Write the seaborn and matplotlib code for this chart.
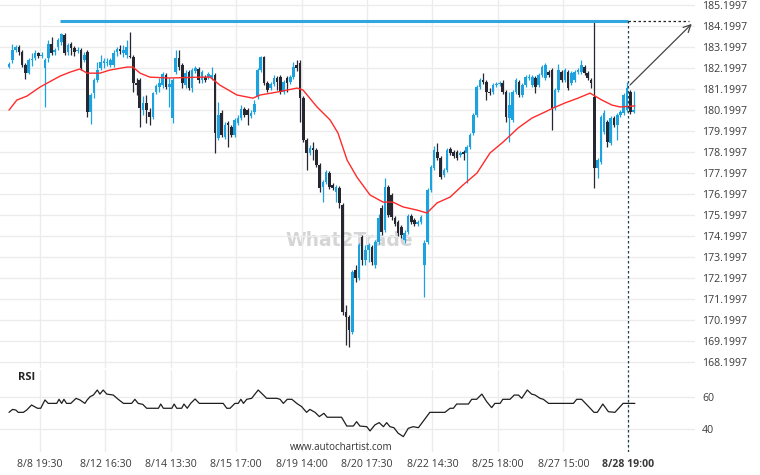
import matplotlib
matplotlib.use("Agg")
import matplotlib.pyplot as plt
import seaborn as sns
import numpy as np

# ---------------- data ----------------
opens = [182.23, 182.56, 183.04, 183.18, 182.94, 182.33, 181.94, 182.56, 182.66, 182.90,
         182.75, 182.18, 182.66, 183.33, 182.94, 183.18, 183.42, 183.75, 182.94, 183.33,
         183.14, 182.99, 183.04, 182.56, 182.94, 180.09, 180.99, 181.61, 182.18, 182.42,
         182.42, 182.33, 182.33, 182.94, 183.09, 182.90, 182.80, 182.75, 182.71, 181.47,
         181.61, 180.18, 180.52, 180.09, 179.85, 181.04, 181.28, 181.37, 181.85, 181.28,
         179.80, 181.99, 182.66, 182.33, 181.37, 181.99, 181.23, 182.04, 182.14, 181.61,
         181.75, 181.75, 181.71, 181.85, 178.85, 180.04, 178.90, 179.56, 179.37, 178.99,
         179.56, 179.80, 180.23, 180.18, 179.90, 180.09, 180.80, 182.09, 182.71, 181.47,
         181.23, 181.42, 181.71, 181.75, 181.04, 181.71, 181.52, 181.75, 182.33, 182.42,
         180.75, 178.75, 178.14, 178.37, 178.28, 177.56, 176.52, 176.75, 177.18, 176.61,
         176.28, 176.47, 175.66, 170.57, 170.33, 169.61, 172.57, 172.19, 174.14, 173.04,
         173.52, 173.66, 172.80, 173.90, 175.52, 174.47, 176.52, 176.14, 175.04, 174.85,
         174.61, 174.00, 174.38, 175.14, 174.95, 174.76, 174.85, 172.80, 173.90, 176.38,
         177.42, 178.18, 177.90, 177.09, 177.33, 178.32, 178.18, 178.18, 178.04, 178.18,
         178.14, 178.42, 179.09, 179.94, 181.28, 181.61, 181.52, 181.04, 181.04, 181.37,
         181.42, 181.47, 181.04, 179.80, 179.71, 181.04, 181.52, 180.90, 181.37, 181.71,
         181.37, 181.71, 181.37, 181.85, 181.71, 181.99, 182.09, 180.28, 181.14, 181.99,
         181.61, 181.99, 181.47, 181.61, 181.99, 181.99, 182.23, 181.94, 181.61, 180.80,
         177.42, 177.71, 179.14, 179.61, 178.61, 179.80, 179.47, 179.94, 180.04, 180.18,
         181.04, 180.09]
highs = [182.47, 183.33, 183.28, 183.28, 183.04, 182.42, 182.66, 182.90, 183.04, 182.94,
         182.94, 182.66, 183.52, 183.66, 183.14, 183.61, 183.85, 183.85, 183.37, 183.42,
         183.23, 183.18, 183.14, 182.94, 183.04, 180.99, 181.71, 182.47, 182.80, 182.66,
         182.66, 182.66, 183.04, 183.18, 183.28, 183.28, 183.52, 183.90, 182.80, 181.71,
         181.71, 180.85, 180.90, 180.28, 181.04, 181.42, 181.71, 181.99, 181.94, 181.71,
         181.71, 183.04, 183.04, 182.42, 182.09, 182.09, 182.18, 182.28, 182.23, 182.09,
         181.85, 181.99, 182.23, 181.94, 180.57, 180.18, 179.61, 179.66, 179.47, 179.80,
         179.94, 180.42, 180.33, 180.28, 180.18, 180.66, 182.18, 182.75, 182.75, 181.56,
         181.52, 181.85, 181.80, 181.85, 181.61, 181.80, 181.85, 182.47, 182.56, 182.56,
         180.85, 178.85, 178.52, 178.66, 178.37, 177.66, 176.85, 177.33, 177.28, 176.71,
         176.61, 176.57, 175.76, 170.90, 170.42, 172.57, 172.80, 173.85, 174.23, 173.76,
         173.85, 173.76, 174.00, 175.23, 175.66, 176.94, 176.61, 176.23, 175.14, 174.95,
         174.71, 174.47, 175.23, 175.23, 175.04, 174.95, 175.19, 174.00, 176.47, 177.56,
         178.47, 178.61, 177.99, 177.42, 178.37, 178.42, 178.28, 178.28, 178.23, 178.28,
         178.52, 179.09, 180.04, 181.37, 181.71, 181.94, 181.61, 181.23, 181.47, 181.52,
         181.56, 181.61, 181.14, 181.04, 181.14, 181.71, 181.61, 181.47, 181.85, 181.90,
         181.85, 181.80, 181.94, 182.33, 182.42, 182.09, 182.18, 181.23, 182.37, 182.09,
         182.18, 182.09, 182.04, 182.09, 182.18, 182.56, 182.33, 182.04, 181.71, 184.38,
         177.90, 179.94, 180.18, 179.71, 179.90, 179.90, 180.04, 180.18, 180.99, 181.52,
         181.14, 181.09]
lows = [182.18, 182.42, 182.94, 182.80, 182.23, 181.66, 181.90, 182.28, 182.56, 182.66,
        182.66, 180.33, 182.47, 182.80, 182.80, 183.04, 183.28, 182.80, 182.80, 182.80,
        182.75, 182.90, 182.09, 182.47, 179.85, 179.52, 180.75, 181.52, 182.09, 182.18,
        182.28, 182.23, 182.23, 182.75, 182.85, 182.71, 182.66, 182.66, 181.04, 180.90,
        179.37, 179.94, 179.56, 179.47, 179.75, 180.94, 181.04, 181.23, 181.18, 180.33,
        179.56, 181.90, 182.09, 181.23, 181.23, 181.14, 181.04, 181.94, 181.47, 181.47,
        181.52, 181.66, 181.61, 178.14, 178.75, 178.90, 178.80, 178.42, 178.90, 178.90,
        179.47, 179.71, 179.85, 179.47, 179.80, 179.99, 180.71, 181.99, 181.37, 181.04,
        181.14, 181.33, 181.14, 180.94, 180.94, 181.04, 181.42, 181.66, 182.04, 179.61,
        178.66, 177.33, 178.04, 177.80, 177.47, 176.28, 175.80, 176.66, 176.42, 176.38,
        175.80, 175.52, 170.42, 169.00, 168.90, 169.52, 172.00, 172.09, 172.80, 172.80,
        172.95, 172.80, 172.66, 173.80, 174.23, 174.38, 175.09, 174.95, 174.66, 174.19,
        174.09, 173.85, 174.28, 174.76, 174.66, 174.66, 174.76, 171.28, 173.80, 176.28,
        177.33, 177.80, 176.90, 176.99, 177.23, 178.04, 177.90, 177.80, 177.94, 177.80,
        176.71, 178.32, 178.99, 179.85, 181.18, 181.42, 180.66, 180.90, 180.94, 181.28,
        181.33, 180.94, 179.61, 178.66, 179.61, 180.94, 180.80, 180.80, 181.28, 181.61,
        181.28, 180.99, 181.28, 181.75, 181.61, 181.75, 179.23, 180.18, 181.04, 181.52,
        181.52, 181.14, 181.37, 181.52, 181.90, 181.90, 181.85, 181.61, 181.23, 176.47,
        176.94, 177.61, 179.04, 178.42, 178.52, 179.37, 178.75, 179.85, 179.94, 180.09,
        179.99, 180.04]
closes = [182.37, 183.04, 183.18, 182.94, 182.33, 181.94, 182.56, 182.61, 182.90, 182.75,
          182.80, 182.56, 183.33, 182.90, 183.04, 183.52, 183.80, 182.90, 183.28, 183.14,
          182.94, 183.04, 182.18, 182.80, 180.09, 180.90, 181.61, 182.09, 182.47, 182.52,
          182.47, 182.56, 182.90, 183.09, 182.99, 183.04, 183.18, 182.71, 181.47, 181.37,
          180.28, 180.52, 180.18, 179.85, 180.99, 181.33, 181.47, 181.90, 181.28, 181.42,
          181.61, 182.66, 182.23, 181.47, 181.94, 181.23, 182.09, 182.18, 181.61, 181.99,
          181.61, 181.90, 181.85, 179.09, 179.94, 178.99, 179.47, 179.47, 178.99, 179.71,
          179.80, 180.23, 179.94, 179.94, 180.04, 180.47, 182.09, 182.71, 181.47, 181.14,
          181.42, 181.71, 181.52, 181.04, 181.52, 181.47, 181.75, 182.23, 182.18, 180.75,
          178.75, 178.14, 178.37, 178.28, 177.56, 176.47, 176.75, 177.23, 176.52, 176.47,
          176.52, 175.76, 170.57, 170.33, 169.71, 172.47, 172.19, 173.76, 173.04, 173.52,
          173.76, 172.95, 173.90, 175.04, 174.38, 176.52, 175.19, 175.09, 174.76, 174.33,
          174.23, 174.33, 175.14, 174.85, 174.76, 174.85, 175.09, 173.85, 176.38, 177.47,
          178.28, 177.90, 176.99, 177.33, 178.28, 178.14, 177.99, 177.90, 178.14, 178.09,
          178.42, 178.99, 179.94, 181.28, 181.61, 181.52, 181.04, 180.99, 181.37, 181.42,
          181.47, 181.04, 179.85, 180.42, 181.04, 181.61, 180.90, 181.37, 181.75, 181.75,
          181.75, 181.28, 181.85, 182.23, 182.33, 181.85, 180.28, 181.14, 182.09, 181.61,
          182.09, 181.23, 181.94, 181.99, 182.09, 182.33, 181.94, 181.71, 181.47, 177.42,
          177.80, 179.85, 180.04, 178.66, 179.80, 179.47, 179.94, 180.09, 180.90, 181.23,
          180.09, 180.18]

# moving average (read at sample candles)
ma_idx = [0, 2.4, 5.5, 9.5, 15.6, 18.7, 21.7, 23.9, 27.8, 30.9, 36.1, 37.9, 40.1, 43.1,
          49.2, 58.4, 61.5, 64.5, 69.7, 74.6, 76.8, 82.0, 88.1, 89.9, 94.2, 98.2, 100.6,
          103.4, 106.4, 110.4, 114.4, 117.4, 120.5, 124.8, 127.8, 130.9, 134.9, 138.8,
          143.1, 147.1, 151.1, 155.7, 159.9, 163.9, 166.4, 170.0, 174.0, 177.7, 181.3,
          184.4, 186.9, 191.4]
ma_val = [180.18, 180.66, 180.85, 181.28, 181.80, 181.99, 182.14, 181.94, 181.94, 182.09,
          182.23, 182.23, 181.94, 181.75, 181.71, 181.75, 181.75, 181.37, 180.90, 180.75,
          180.90, 181.04, 181.23, 181.14, 180.33, 179.71, 179.09, 177.80, 176.99, 176.14,
          175.80, 175.80, 175.57, 175.42, 175.28, 175.76, 176.04, 176.61, 177.18, 178.14,
          178.66, 179.33, 179.80, 180.09, 180.28, 180.52, 180.75, 180.99, 180.66, 180.42,
          180.33, 180.38]

# RSI (read at turning points)
rsi_idx = [0, 1.1, 2.1, 2.8, 4.4, 5.4, 6.9, 8.7, 9.7, 11, 12, 14.6, 15.3, 16.1, 16.8, 17.6,
           18.9, 20.5, 21.7, 23.2, 23.9, 24.8, 25.8, 27, 27.8, 28.8, 29.9, 31.9, 33.4, 35,
           37.5, 38.5, 39.5, 40.9, 42.1, 45.7, 46.4, 47.2, 49.8, 50.5, 51.3, 52.8, 53.5,
           54.5, 55.6, 56.9, 58.2, 65.5, 66.6, 67.6, 69.1, 70.1, 70.9, 71.7, 72.7, 74.2,
           76.2, 77.8, 78.8, 81.9, 82.9, 83.9, 85.1, 86.5, 88, 89.5, 91, 92, 93.6, 94.9,
           96.3, 97.3, 101.7, 103.3, 105.3, 106.3, 107.3, 109.4, 110.4, 111.9, 113.2, 114.5,
           115.5, 116.5, 117.7, 119, 120.6, 122.1, 123.6, 125.2, 128.7, 133.3, 134.9, 135.9,
           136.9, 140.5, 141.5, 143, 144.6, 146.1, 147.6, 148.6, 150.2, 151, 153.2, 154.5,
           155.8, 156.8, 158.5, 159.8, 160.9, 162.4, 163.4, 165, 172.6, 173.6, 175.1, 176.7,
           178.9, 179.9, 181.6, 183.3, 185.3, 187.8, 191.4]
rsi_val = [50.4, 52.2, 51.8, 50.4, 50.4, 51.8, 54.9, 52.9, 52.9, 58, 55.9, 55.9, 58.4, 55.9,
           58.4, 55.9, 55.9, 59, 58, 55.9, 58, 60, 61, 64.1, 61.6, 64.1, 61.6, 61, 58.4, 55.9,
           55.9, 58.4, 55.9, 55.3, 52.9, 52.9, 55.5, 52.9, 52.9, 55.5, 52.9, 52.9, 55.5, 52.9,
           56, 58.6, 55.9, 55.9, 52.9, 52.9, 55.9, 55.9, 58.4, 55.9, 58.4, 59, 64.1, 61, 59,
           59, 58.4, 55.9, 58.4, 58.4, 55.9, 53.9, 50.4, 52.2, 50.4, 47.8, 49.8, 47.4, 47.4,
           42, 42, 44.7, 42, 41.6, 39, 42.7, 44.1, 41.6, 44.1, 41.6, 41, 37.6, 35.5, 40.6,
           41.6, 41, 50.4, 50.4, 52.9, 52.9, 55.5, 55.5, 58.4, 58.4, 61.6, 56.9, 53.3, 55.9,
           55.9, 58.4, 58.4, 61, 61, 59, 64.1, 61.6, 61, 59, 58.4, 55.9, 55.9, 58.4, 58.4,
           55.1, 50.4, 50.4, 55.5, 50.8, 50.4, 55.9, 55.9]

tick_pos = [9.5, 29.5, 49.5, 69.5, 89.5, 109.5, 129.5, 149.5, 169.5]
tick_labels = ["8/8 19:30", "8/12 16:30", "8/14 13:30", "8/15 17:00", "8/19 14:00",
               "8/20 17:30", "8/22 14:30", "8/25 18:00", "8/27 15:00"]
signal_pos = 189.3
signal_label = "8/28 19:00"
resistance = 184.42
resistance_start = 15.5
price_ticks = [168.1997 + k for k in range(18)]
rsi_ticks = [40, 60]

# ---------------- style ----------------
sns.set_theme(style="white")
plt.rcParams['font.family'] = ['Open Sans', 'DejaVu Sans']

W, H = 760, 475
fig = plt.figure(figsize=(W / 100, H / 100), dpi=100)
ax = fig.add_axes([0, 1 - 368 / H, 695 / W, 368 / H])
ax2 = fig.add_axes([0, 1 - 452 / H, 695 / W, (452 - 370) / H])

BLUE = "#1da2e0"
DARK = "#272732"
GRID = "#ececec"
TXT = "#3a3a3a"

n = len(closes)
idx = np.arange(n)
o = np.array(opens); c = np.array(closes); h = np.array(highs); l = np.array(lows)
up = c >= o
cols = np.where(up, BLUE, DARK)

xlim = (-9 / 3.27, (695 - 9) / 3.27)

# watermark
ax.text(104, 173.95, "What2Trade", fontsize=13.5, fontweight="bold", color="#d5d5d5",
        ha="center", va="center", zorder=0.5, family="DejaVu Sans")

# candles
ax.vlines(idx, l, h, colors=cols, lw=0.9, zorder=2)
body_h = np.abs(c - o)
body_h = np.where(body_h < 0.03, 0.03, body_h)
ax.bar(idx, body_h, bottom=np.minimum(o, c), width=0.8, color=cols, linewidth=0, zorder=3)

# moving average
sns.lineplot(x=ma_idx, y=ma_val, ax=ax, color="#ff2b2b", lw=1.0, estimator=None,
             sort=False, zorder=4)

# resistance line
ax.hlines(resistance, resistance_start, signal_pos, color="#2fa6dd", lw=2.2, zorder=5)
ax.hlines(resistance, signal_pos, 208, color="#222222", lw=0.9, ls=(0, (2, 2)), zorder=5)
ax.annotate("", xy=(209.4, 184.38), xytext=(signal_pos, 181.28),
            arrowprops=dict(arrowstyle="->", color="#444444", lw=0.9, mutation_scale=13),
            zorder=6)
ax.axvline(signal_pos, ymin=0, ymax=(368 - 20) / 368, color="#1c3f4f", lw=0.9,
           ls=(0, (2, 2)), zorder=6)

ax.set_xlim(*xlim)
ax.set_ylim(185.424 - 368 / 21, 185.424)
ax.set_yticks(price_ticks)
ax.set_yticklabels([f"{v:.4f}" for v in price_ticks])
ax.yaxis.tick_right()
ax.set_xticks(tick_pos)
ax.set_xticklabels([])
ax.tick_params(axis="both", length=0, pad=5, labelsize=7.6, labelcolor=TXT)
ax.grid(True, color=GRID, lw=1)
ax.set_axisbelow(True)
for s in ax.spines.values():
    s.set_visible(False)
ax.set_xlabel(""); ax.set_ylabel("")

# RSI panel
sns.lineplot(x=rsi_idx, y=rsi_val, ax=ax2, color="#1e1e1e", lw=0.9, estimator=None, sort=False)
ax2.axvline(signal_pos, color="#1c3f4f", lw=0.9, ls=(0, (2, 2)), zorder=6)
ax2.set_xlim(*xlim)
ax2.set_ylim(60 - (452 - 396.7) / 1.63, 60 + (396.7 - 370) / 1.63)
ax2.set_yticks(rsi_ticks)
ax2.set_yticklabels([str(v) for v in rsi_ticks])
ax2.yaxis.tick_right()
ax2.set_xticks(tick_pos + [signal_pos])
ax2.set_xticklabels(tick_labels + [signal_label])
ax2.get_xticklabels()[-1].set_fontweight("bold")
ax2.tick_params(axis="both", length=0, pad=5, labelsize=7.6, labelcolor=TXT)
ax2.grid(True, color=GRID, lw=1)
ax2.set_axisbelow(True)
for s in ax2.spines.values():
    s.set_visible(False)
ax2.set_xlabel(""); ax2.set_ylabel("")

fig.text(18 / W, 1 - 377 / H, "RSI", fontsize=8, fontweight="bold", color="#222222",
         va="center", ha="left")
fig.text(341 / W, 1 - 448 / H, "www.autochartist.com", fontsize=7, color="#333333",
         va="center", ha="center")

fig.savefig("out.png", dpi=100)
